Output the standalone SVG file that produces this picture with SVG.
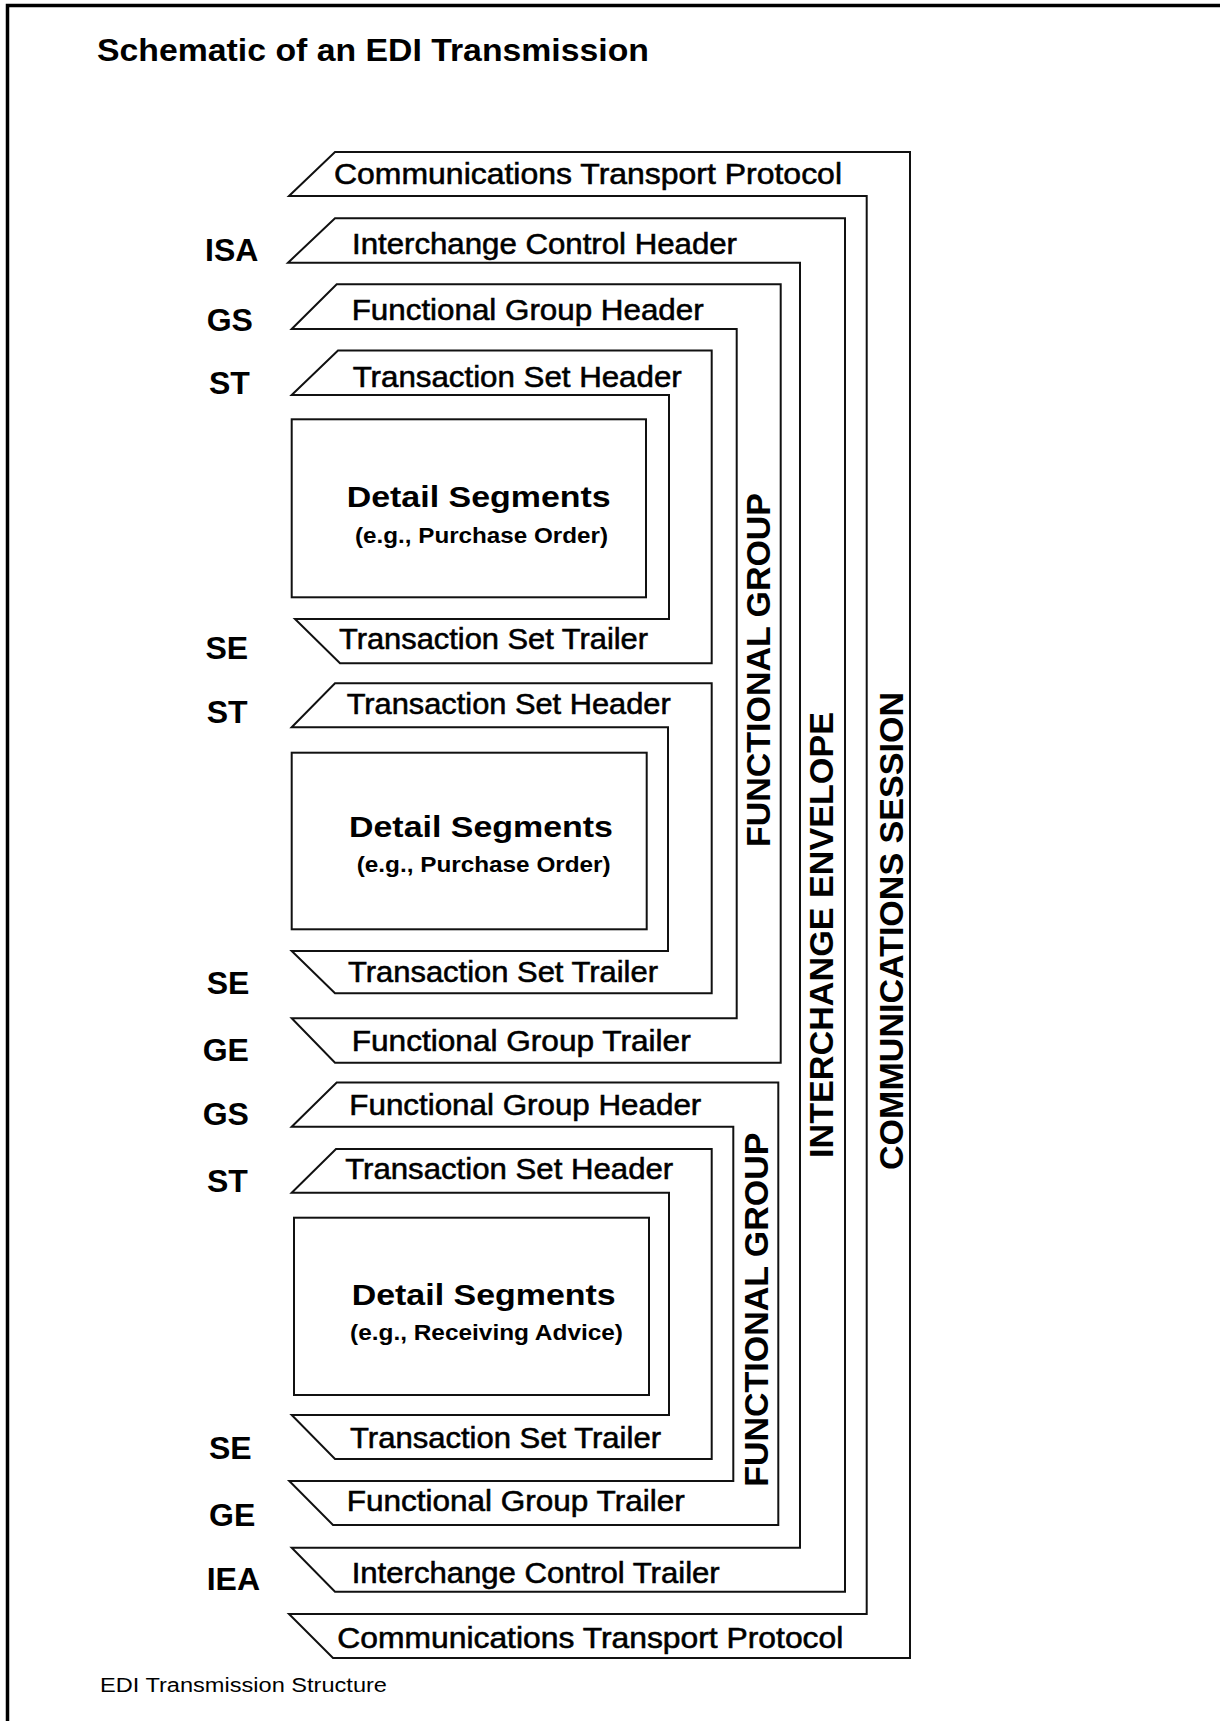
<svg xmlns="http://www.w3.org/2000/svg" width="1220" height="1721" viewBox="0 0 1220 1721">
<style>
.ln{fill:none;stroke:#111;stroke-width:2;stroke-linejoin:miter}
.t{font-family:"Liberation Sans",Arial,Helvetica,sans-serif;fill:#000}
.hd{font-size:29px;stroke:#000;stroke-width:0.55px}
.lb{font-size:32px;font-weight:bold}
.vt{font-size:34px;font-weight:bold}
.ds{font-size:30px;font-weight:bold}
.eg{font-size:22px;font-weight:bold}
</style>
<rect width="1220" height="1721" fill="#fff"/>
<path d="M7.5 1721V5.5H1220" fill="none" stroke="#000" stroke-width="3.5"/>
<text class="t" x="97" y="61" font-size="32" font-weight="bold" textLength="552" lengthAdjust="spacingAndGlyphs">Schematic of an EDI Transmission</text>

<g id="communications-session">
<polygon class="ln" points="289,196 335,152 910,152 910,1658 333,1658 289,1614 866.7,1614 866.7,196"/>
<text class="t hd" x="334" y="184" textLength="508" lengthAdjust="spacingAndGlyphs">Communications Transport Protocol</text>
<text class="t hd" x="337.3" y="1648.3" textLength="506" lengthAdjust="spacingAndGlyphs">Communications Transport Protocol</text>
<text class="t vt" transform="translate(903.3 1170) rotate(-90)" textLength="478" lengthAdjust="spacingAndGlyphs">COMMUNICATIONS SESSION</text>
</g>

<g id="interchange-envelope">
<polygon class="ln" points="288,262.7 335,218.3 845,218.3 845,1591.7 335,1591.7 291.7,1547.7 800,1547.7 800,262.7"/>
<text class="t hd" x="352" y="254" textLength="385" lengthAdjust="spacingAndGlyphs">Interchange Control Header</text>
<text class="t hd" x="351.7" y="1582.7" textLength="368" lengthAdjust="spacingAndGlyphs">Interchange Control Trailer</text>
<text class="t vt" transform="translate(833.3 1158) rotate(-90)" textLength="446" lengthAdjust="spacingAndGlyphs">INTERCHANGE ENVELOPE</text>
<text class="t lb" x="205" y="261">ISA</text>
<text class="t lb" x="206.7" y="1590">IEA</text>
</g>

<g id="functional-group-1">
<polygon class="ln" points="291.7,329 336.7,284.3 780.7,284.3 780.7,1062.7 335,1062.7 291.7,1018.3 736.7,1018.3 736.7,329"/>
<text class="t hd" x="351.7" y="320" textLength="352" lengthAdjust="spacingAndGlyphs">Functional Group Header</text>
<text class="t hd" x="351.7" y="1050.7" textLength="339" lengthAdjust="spacingAndGlyphs">Functional Group Trailer</text>
<text class="t vt" transform="translate(770 847) rotate(-90)" textLength="354" lengthAdjust="spacingAndGlyphs">FUNCTIONAL GROUP</text>
<text class="t lb" x="206.7" y="330.7">GS</text>
<text class="t lb" x="202.7" y="1060.7">GE</text>
</g>

<g id="transaction-set-1">
<polygon class="ln" points="291.7,395 338,350.5 711.7,350.5 711.7,663.3 340,663.3 295,619 669,619 669,395"/>
<text class="t hd" x="352.7" y="386.7" textLength="329" lengthAdjust="spacingAndGlyphs">Transaction Set Header</text>
<text class="t hd" x="339" y="648.5" textLength="309" lengthAdjust="spacingAndGlyphs">Transaction Set Trailer</text>
<text class="t lb" x="209" y="394">ST</text>
<text class="t lb" x="205.5" y="659.3">SE</text>
</g>

<g id="detail-segments-1">
<rect class="ln" x="291.7" y="419.3" width="354.3" height="178"/>
<text class="t ds" x="346.7" y="506.7" textLength="264" lengthAdjust="spacingAndGlyphs">Detail Segments</text>
<text class="t eg" x="355" y="543" textLength="253" lengthAdjust="spacingAndGlyphs">(e.g., Purchase Order)</text>
</g>

<g id="transaction-set-2">
<polygon class="ln" points="291.7,727.3 335,683.3 711.7,683.3 711.7,993.3 335,993.3 291.7,951 668,951 668,727.3"/>
<text class="t hd" x="346.7" y="714" textLength="324" lengthAdjust="spacingAndGlyphs">Transaction Set Header</text>
<text class="t hd" x="348" y="981.7" textLength="310" lengthAdjust="spacingAndGlyphs">Transaction Set Trailer</text>
<text class="t lb" x="206.7" y="723">ST</text>
<text class="t lb" x="206.7" y="994">SE</text>
</g>

<g id="detail-segments-2">
<rect class="ln" x="291.7" y="752.7" width="355" height="176.6"/>
<text class="t ds" x="349" y="836.7" textLength="264" lengthAdjust="spacingAndGlyphs">Detail Segments</text>
<text class="t eg" x="356.7" y="871.7" textLength="254" lengthAdjust="spacingAndGlyphs">(e.g., Purchase Order)</text>
</g>

<g id="functional-group-2">
<polygon class="ln" points="291.7,1126.7 336.7,1082.5 778.3,1082.5 778.3,1525 333,1525 289.3,1481 733.3,1481 733.3,1126.7"/>
<text class="t hd" x="349.3" y="1115" textLength="352" lengthAdjust="spacingAndGlyphs">Functional Group Header</text>
<text class="t hd" x="346.7" y="1510.7" textLength="338" lengthAdjust="spacingAndGlyphs">Functional Group Trailer</text>
<text class="t vt" transform="translate(768.3 1486.7) rotate(-90)" textLength="354" lengthAdjust="spacingAndGlyphs">FUNCTIONAL GROUP</text>
<text class="t lb" x="202.7" y="1125">GS</text>
<text class="t lb" x="209" y="1526">GE</text>
</g>

<g id="transaction-set-3">
<polygon class="ln" points="291.7,1192.7 336,1149 711.7,1149 711.7,1459 335,1459 291.7,1415 669,1415 669,1192.7"/>
<text class="t hd" x="345.2" y="1179" textLength="328" lengthAdjust="spacingAndGlyphs">Transaction Set Header</text>
<text class="t hd" x="350" y="1448.3" textLength="311" lengthAdjust="spacingAndGlyphs">Transaction Set Trailer</text>
<text class="t lb" x="207" y="1191.7">ST</text>
<text class="t lb" x="209" y="1459">SE</text>
</g>

<g id="detail-segments-3">
<rect class="ln" x="294" y="1217.7" width="355" height="177.3"/>
<text class="t ds" x="351.7" y="1305" textLength="264" lengthAdjust="spacingAndGlyphs">Detail Segments</text>
<text class="t eg" x="350" y="1340" textLength="273" lengthAdjust="spacingAndGlyphs">(e.g., Receiving Advice)</text>
</g>

<g id="connectors"></g>

<text class="t" x="100" y="1692" font-size="20" textLength="287" lengthAdjust="spacingAndGlyphs">EDI Transmission Structure</text>
</svg>
